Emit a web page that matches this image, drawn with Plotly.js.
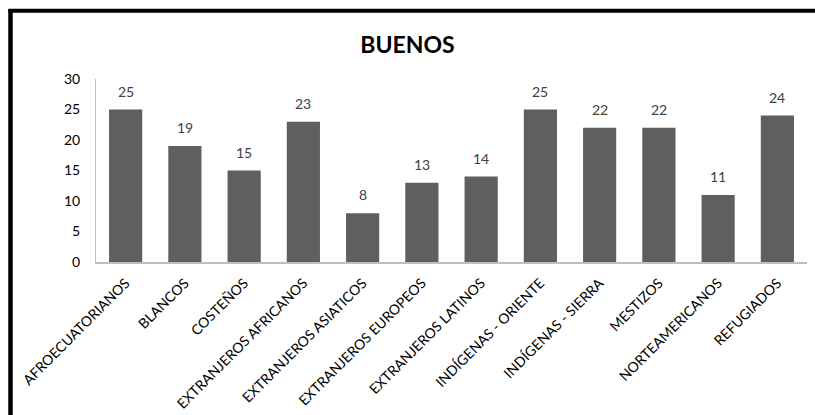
<!DOCTYPE html>
<html>
<head>
<meta charset="utf-8">
<script src="https://cdn.plot.ly/plotly-3.0.1.min.js"></script>
<style>html,body{margin:0;padding:0;background:#fff;}#chart{width:815px;height:415px;}</style>
</head>
<body>
<div id="chart"></div>
<script>
var categories = ["AFROECUATORIANOS","BLANCOS","COSTEÑOS","EXTRANJEROS AFRICANOS","EXTRANJEROS ASIATICOS","EXTRANJEROS EUROPEOS","EXTRANJEROS LATINOS","INDÍGENAS - ORIENTE","INDÍGENAS - SIERRA","MESTIZOS","NORTEAMERICANOS","REFUGIADOS"];
var values = [25,19,15,23,8,13,14,25,22,22,11,24];
var yTicks = [0,5,10,15,20,25,30];

var W = 815, H = 415, L = 96, R = 8, T = 79, B = 153;
var pw = W - L - R, ph = H - T - B;
function px(x){ return (x - L) / pw; }
function py(y){ return (H - B - y) / ph; }

var font = "Lato, 'Open Sans', sans-serif";
var trace = {
  type: 'bar', x: categories, y: values,
  marker: {color: '#5f5f5f', line: {color: '#5f5f5f', width: 0}},
  hoverinfo: 'none'
};
var annotations = categories.map(function(c, i){
  return {x: c, y: values[i], xref: 'x', yref: 'y', text: String(values[i]), showarrow: false,
          yanchor: 'bottom', yshift: 8, font: {family: font, size: 14, color: '#404040'}};
});
var layout = {
  width: W, height: H,
  margin: {l: L, r: R, t: T, b: B},
  paper_bgcolor: '#fff', plot_bgcolor: '#fff',
  showlegend: false, bargap: 0.44,
  title: {text: '<b>BUENOS</b>', x: 0.5, xref: 'container', y: 1 - 45/H, yref: 'container', yanchor: 'middle',
          font: {family: font, size: 23, color: '#000'}},
  xaxis: {showgrid: false, showline: true, linecolor: '#bfbfbf', linewidth: 1.5, ticks: '', tickangle: -45,
          ticklabelstandoff: 6,
          tickfont: {family: font, size: 14, color: '#000'}, automargin: false},
  yaxis: {range: [0, 30], tickvals: yTicks, showgrid: false, showline: true, linecolor: '#bfbfbf', linewidth: 1,
          ticks: '', ticklabelstandoff: 12, zeroline: false,
          tickfont: {family: font, size: 14, color: '#000'}, automargin: false},
  annotations: annotations,
  shapes: [
    {type: 'line', xref: 'paper', yref: 'paper', x0: px(10.5), x1: px(10.5), y0: py(9), y1: py(420), line: {color: '#000', width: 4.5}},
    {type: 'line', xref: 'paper', yref: 'paper', x0: px(8.5), x1: px(820), y0: py(10.7), y1: py(10.7), line: {color: '#000', width: 4}}
  ]
};
Plotly.newPlot('chart', [trace], layout, {staticPlot: true});
</script>
</body>
</html>
